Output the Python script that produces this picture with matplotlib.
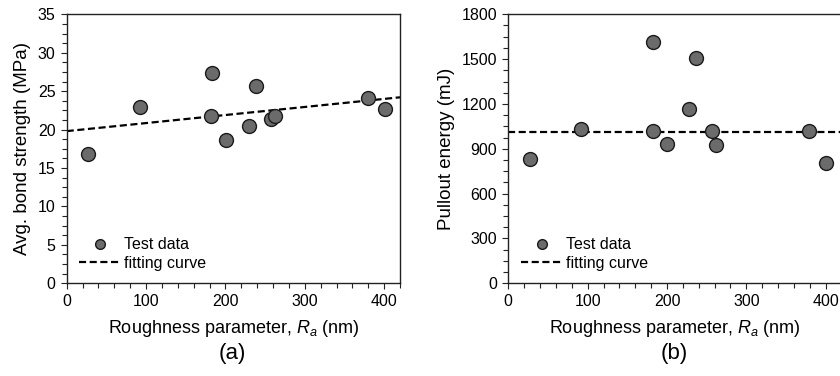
import numpy as np
import matplotlib as mpl
mpl.use("Agg")
import matplotlib.pyplot as plt
from matplotlib.ticker import MultipleLocator, AutoMinorLocator

plt.rcParams['font.family'] = ['Liberation Sans', 'DejaVu Sans']
plt.rcParams['mathtext.fontset'] = 'custom'
plt.rcParams['mathtext.it'] = 'Liberation Sans:italic'
plt.rcParams['mathtext.rm'] = 'Liberation Sans'

# (a) bond strength
ra_a = [26.5, 92.7, 182.8, 181.6, 200.5, 229.6, 238.0, 257.9, 262.0, 379.7, 400.8]
strength = [16.8, 23.0, 27.3, 21.8, 18.7, 20.5, 25.7, 21.4, 21.8, 24.1, 22.7]
fit_a_x = [0, 420]
fit_a_y = [19.8, 24.2]

# (b) pullout energy
ra_b = [27.7, 92.0, 182.0, 182.3, 200.0, 227.8, 237.0, 257.0, 261.8, 379.0, 400.0]
energy = [830, 1035, 1615, 1019, 930, 1164, 1510, 1019, 923, 1019, 807]
fit_b_x = [0, 420]
fit_b_y = [1010, 1010]

fig = plt.figure(figsize=(8.4, 3.76), dpi=100)
ax1 = fig.add_axes([0.0794, 0.2465, 0.3968, 0.7155])
ax2 = fig.add_axes([0.6051, 0.2465, 0.3968, 0.7155])

mk = dict(marker='o', ls='none', ms=10, mfc='#6b6b6b', mec='#1a1a1a', mew=1.0)


def style(ax, ymax, ystep, ylabel):
    ax.set_xlim(0, 420)
    ax.set_ylim(0, ymax)
    ax.xaxis.set_major_locator(MultipleLocator(100))
    ax.xaxis.set_minor_locator(MultipleLocator(20))
    ax.yaxis.set_major_locator(MultipleLocator(ystep))
    ax.yaxis.set_minor_locator(AutoMinorLocator(4))
    ax.tick_params(which='both', direction='out', length=3.5, width=0.8,
                   color='#222222', labelsize=11.5, pad=4)
    ax.tick_params(which='major', length=4)
    ax.tick_params(right=False, top=False)
    for s in ax.spines.values():
        s.set_linewidth(1.0)
        s.set_color('#222222')
    ax.set_xlabel('Roughness parameter, $R_a$ (nm)', fontsize=13, labelpad=6)
    ax.set_ylabel(ylabel, fontsize=13.5, labelpad=5)


ax1.plot(fit_a_x, fit_a_y, '--', color='black', lw=1.6, dashes=(3.2, 1.6),
         label='fitting curve')
ax1.plot(ra_a, strength, label='Test data', **mk)
style(ax1, 35, 5, 'Avg. bond strength (MPa)')

ax2.plot(fit_b_x, fit_b_y, '--', color='black', lw=1.6, dashes=(3.2, 1.6),
         label='fitting curve')
ax2.plot(ra_b, energy, label='Test data', **mk)
style(ax2, 1800, 300, 'Pullout energy (mJ)')

for ax in (ax1, ax2):
    h, l = ax.get_legend_handles_labels()
    leg = ax.legend(h[::-1], l[::-1], loc='lower left', frameon=False,
                    fontsize=11.5, markerscale=0.7, handlelength=2.6,
                    handletextpad=0.2, labelspacing=0.2,
                    bbox_to_anchor=(0.0, 0.0), borderaxespad=0.4)

fig.text(0.277, 0.045, '(a)', ha='center', fontsize=16)
fig.text(0.803, 0.045, '(b)', ha='center', fontsize=16)

fig.savefig('out.png', dpi=100)
